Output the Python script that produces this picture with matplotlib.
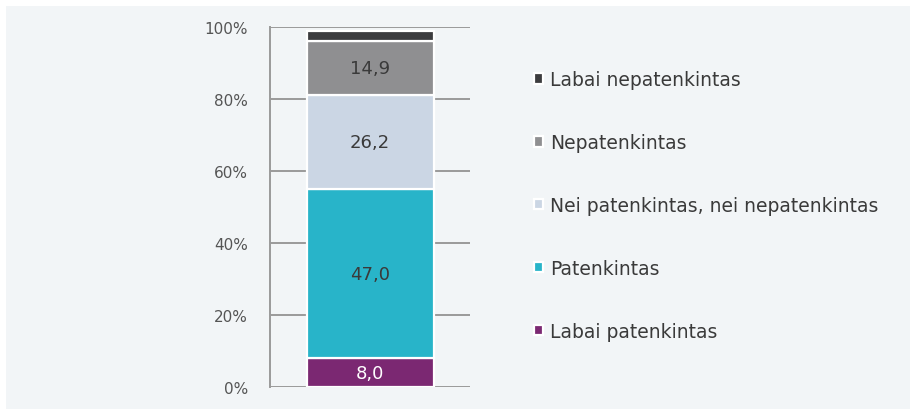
import matplotlib.pyplot as plt
from matplotlib.patches import Rectangle

# duomenys
categories = ["Labai patenkintas", "Patenkintas", "Nei patenkintas, nei nepatenkintas",
              "Nepatenkintas", "Labai nepatenkintas"]
values = [8.0, 47.0, 26.2, 14.9, 2.8]
labels = ["8,0", "47,0", "26,2", "14,9", ""]
colors = ["#7b2872", "#28b4c9", "#cbd6e4", "#8f8f91", "#3c3c3e"]
label_colors = ["white", "#3a3a3a", "#3a3a3a", "#3a3a3a", "#3a3a3a"]
yticks = [0, 20, 40, 60, 80, 100]

fig = plt.figure(figsize=(9.1, 4.1), dpi=100, facecolor="white")
bg = Rectangle((6 / 910, 0), 1, (410 - 7) / 410, transform=fig.transFigure,
               facecolor="#f2f5f7", edgecolor="none", zorder=-10)
fig.add_artist(bg)

ax = fig.add_axes([270 / 910, 22 / 410, 200 / 910, 360 / 410])
ax.set_facecolor("none")

bottom = 0
bars = []
for v, c, lab, lc in zip(values, colors, labels, label_colors):
    b = ax.bar(0, v, bottom=bottom, width=0.635, color=c, edgecolor="white",
               linewidth=1.6, zorder=3)
    bars.append(b)
    if lab:
        ax.text(0, bottom + v / 2, lab, ha="center", va="center", fontsize=13,
                color=lc, zorder=4)
    bottom += v

ax.set_xlim(-0.5, 0.5)
ax.set_ylim(0, 100)
ax.set_yticks(yticks)
ax.set_yticklabels([f"{t}%" for t in yticks], fontsize=11, color="#555555")
ax.set_xticks([])
ax.tick_params(axis="y", length=0, pad=16)
ax.yaxis.grid(True, color="#9a9a9a", linewidth=1.4, zorder=1)
ax.set_axisbelow(True)
for s in ["top", "right", "bottom"]:
    ax.spines[s].set_visible(False)
ax.spines["left"].set_color("#9a9a9a")
ax.spines["left"].set_linewidth(1.4)

leg = ax.legend([b[0] for b in bars[::-1]], categories[::-1], loc="upper left",
                bbox_to_anchor=(534 / 910, (410 - 71) / 410), bbox_transform=fig.transFigure,
                frameon=False, fontsize=13.5, handlelength=0.5, handleheight=0.5,
                handletextpad=0.37, labelspacing=2.34, borderpad=0, borderaxespad=0)
for t in leg.get_texts():
    t.set_color("#3a3a3a")

fig.savefig("out.png", dpi=100, facecolor="white")
